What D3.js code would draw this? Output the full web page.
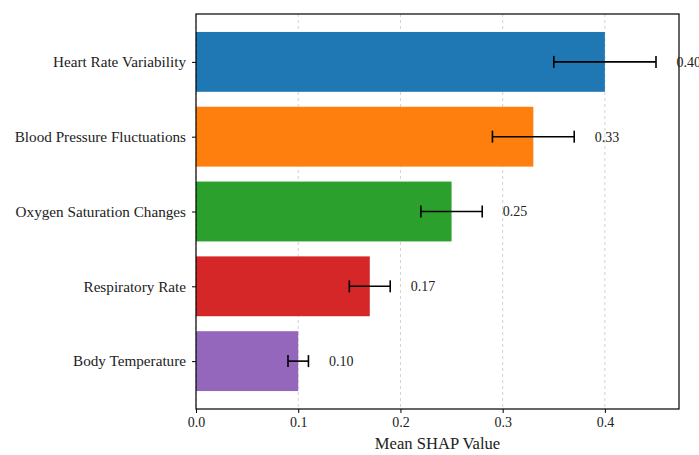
<!DOCTYPE html>
<html>
<head>
<meta charset="utf-8">
<script src="https://cdn.jsdelivr.net/npm/d3@7"></script>
<style>
  html, body { margin: 0; padding: 0; background: #fff; }
  svg { display: block; font-family: "Liberation Serif", "Times New Roman", serif; }
</style>
</head>
<body>
<svg id="chart" width="699" height="455"></svg>
<script>
// Feature importance data (top to bottom)
const features = [
  "Heart Rate Variability",
  "Blood Pressure Fluctuations",
  "Oxygen Saturation Changes",
  "Respiratory Rate",
  "Body Temperature"
];
const meanShap = [0.40, 0.33, 0.25, 0.17, 0.10];
const shapError = [0.05, 0.04, 0.03, 0.02, 0.01];
const barColors = ["#1f77b4", "#ff7f0e", "#2ca02c", "#d62728", "#9467bd"];
const xTicks = [0.0, 0.1, 0.2, 0.3, 0.4];

const svg = d3.select("#chart");
const margin = { left: 196, right: 20, top: 14, bottom: 46 };
const plotW = 679 - margin.left;
const plotH = 409 - margin.top;

const g = svg.append("g").attr("transform", `translate(${margin.left},${margin.top})`);

// x domain: largest bar + error, padded by 5%
const xMax = d3.max(meanShap.map((v, i) => v + shapError[i]));
const x = d3.scaleLinear().domain([0, xMax * 1.05]).range([0, plotW]);

// y: category index, bar height 0.8, 5% margins, first category at top
const barH = 0.8;
const yLo = -barH / 2, yHi = features.length - 1 + barH / 2;
const pad = (yHi - yLo) * 0.05;
const y = d3.scaleLinear().domain([yLo - pad, yHi + pad]).range([0, plotH]);

// vertical dashed grid
g.append("g").selectAll("line").data(xTicks).join("line")
  .attr("x1", d => x(d)).attr("x2", d => x(d))
  .attr("y1", 0).attr("y2", plotH)
  .attr("stroke", "#b0b0b0").attr("stroke-width", 0.8)
  .attr("stroke-dasharray", "3,3").attr("opacity", 0.7);

// bars
g.append("g").selectAll("rect").data(features).join("rect")
  .attr("x", x(0))
  .attr("y", (d, i) => y(i - barH / 2))
  .attr("width", (d, i) => x(meanShap[i]) - x(0))
  .attr("height", y(barH) - y(0))
  .attr("fill", (d, i) => barColors[i]);

// error bars
const eb = g.append("g").attr("stroke", "#000").attr("stroke-width", 1.6);
features.forEach((f, i) => {
  const lo = x(meanShap[i] - shapError[i]), hi = x(meanShap[i] + shapError[i]), cy = y(i);
  eb.append("line").attr("x1", lo).attr("x2", hi).attr("y1", cy).attr("y2", cy);
  eb.append("line").attr("x1", lo).attr("x2", lo).attr("y1", cy - 6).attr("y2", cy + 6);
  eb.append("line").attr("x1", hi).attr("x2", hi).attr("y1", cy - 6).attr("y2", cy + 6);
});

// value labels
g.append("g").selectAll("text").data(features).join("text")
  .attr("x", (d, i) => x(meanShap[i] + shapError[i] + 0.02))
  .attr("y", (d, i) => y(i))
  .attr("dy", "0.35em")
  .attr("font-size", 14)
  .attr("fill", "#222")
  .text((d, i) => meanShap[i].toFixed(2));

// axes
const xAxis = g.append("g").attr("transform", `translate(0,${plotH})`)
  .call(d3.axisBottom(x).tickValues(xTicks).tickFormat(d3.format(".1f")).tickSize(4).tickPadding(4));
const yAxis = g.append("g")
  .call(d3.axisLeft(y).tickValues(features.map((d, i) => i)).tickFormat(i => features[i]).tickSize(4).tickPadding(6));
[xAxis, yAxis].forEach(a => {
  a.select(".domain").remove();
  a.selectAll("text").attr("fill", "#222")
    .attr("font-family", "Liberation Serif, Times New Roman, serif");
  a.selectAll("line").attr("stroke", "#000").attr("stroke-width", 1);
});
xAxis.selectAll("text").attr("font-size", 14);
yAxis.selectAll("text").attr("font-size", 15.2);

// frame
g.append("rect").attr("x", 0).attr("y", 0).attr("width", plotW).attr("height", plotH)
  .attr("fill", "none").attr("stroke", "#000").attr("stroke-width", 1.2);

// axis title
svg.append("text")
  .attr("x", margin.left + plotW / 2).attr("y", 449)
  .attr("text-anchor", "middle")
  .attr("font-size", 16.6).attr("fill", "#222")
  .text("Mean SHAP Value");
</script>
</body>
</html>
